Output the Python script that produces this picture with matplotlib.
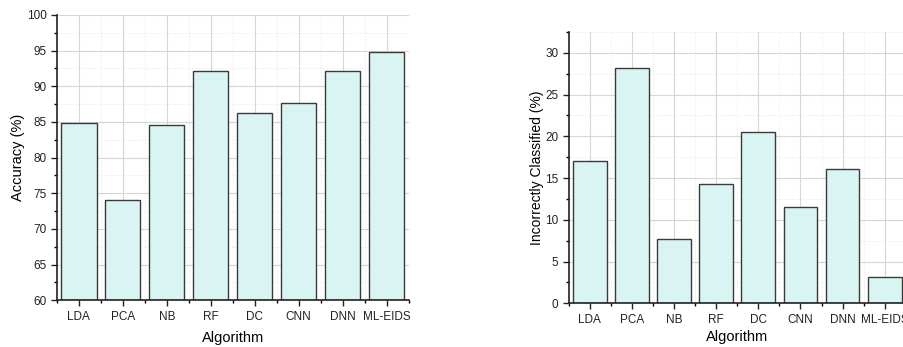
import matplotlib
matplotlib.use("Agg")
import matplotlib.pyplot as plt
from matplotlib.ticker import MultipleLocator, FixedLocator

plt.rcParams['font.family'] = ['Liberation Sans', 'DejaVu Sans']

algorithms = ["LDA", "PCA", "NB", "RF", "DC", "CNN", "DNN", "ML-EIDS"]
accuracy = [84.9, 74.0, 84.5, 92.2, 86.3, 87.7, 92.1, 94.8]
incorrect = [17.0, 28.2, 7.7, 14.3, 20.5, 11.5, 16.1, 3.2]

fig = plt.figure(figsize=(9.04, 3.47), dpi=100)
ax1 = fig.add_axes([0.063, 0.135, 0.389, 0.822])
ax2 = fig.add_axes([0.629, 0.126, 0.373, 0.782])

ax1.bar(range(8), [v - 60 for v in accuracy], bottom=60, width=0.8,
        color="#d8f5f4", edgecolor="#3a3a3a", linewidth=1.0)
ax2.bar(range(8), incorrect, width=0.8,
        color="#d8f5f4", edgecolor="#3a3a3a", linewidth=1.0)

for ax, ylim, lab, fs, xpad in [(ax1, (60, 100), "Accuracy (%)", 10.5, 6),
                                (ax2, (0, 32.5), "Incorrectly Classified (%)", 10, 3)]:
    ax.set_axisbelow(True)
    ax.set_xlim(-0.5, 7.5)
    ax.set_ylim(*ylim)
    ax.set_xticks(range(8))
    ax.set_xticklabels(algorithms, fontsize=8.5)
    ax.xaxis.set_minor_locator(FixedLocator([i + 0.5 for i in range(-1, 8)]))
    ax.yaxis.set_major_locator(MultipleLocator(5))
    ax.yaxis.set_minor_locator(MultipleLocator(2.5))
    ax.tick_params(axis="both", which="major", direction="out", length=4,
                   width=1, labelsize=8.5, colors="#222222")
    ax.tick_params(axis="both", which="minor", direction="out", length=2, width=1)
    ax.grid(True, which="major", color="#d6d6d6", linewidth=0.8)
    ax.grid(True, which="minor", color="#e4e4e4", linewidth=0.6, linestyle=":")
    for s in ["top", "right"]:
        ax.spines[s].set_visible(False)
    for s in ["left", "bottom"]:
        ax.spines[s].set_linewidth(1.2)
        ax.spines[s].set_color("#222222")
    ax.set_xlabel("Algorithm", fontsize=10.5, labelpad=xpad)
    ax.set_ylabel(lab, fontsize=fs, labelpad=1)

fig.savefig("out.png", dpi=100)
